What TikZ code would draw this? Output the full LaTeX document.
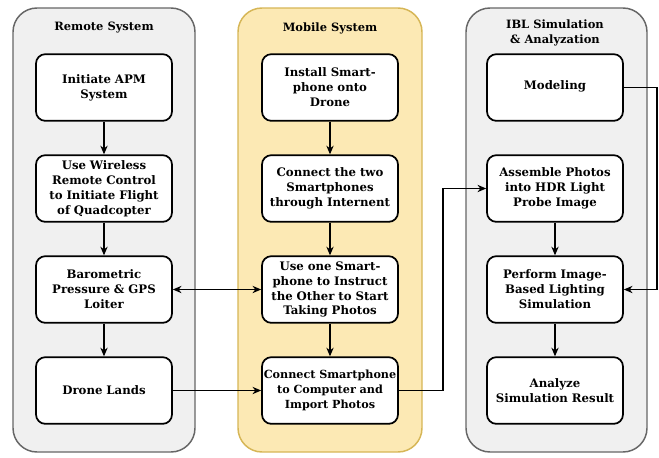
\documentclass[tikz,border=0pt]{standalone}
\usepackage{fontspec}
\setmainfont{DejaVu Serif}
\usetikzlibrary{arrows.meta}

\definecolor{lanegray}{HTML}{F0F0F0}
\definecolor{laneline}{HTML}{666666}
\definecolor{laneyellow}{HTML}{FCE9B4}
\definecolor{lanegold}{HTML}{D6B656}

\tikzset{
  lane/.style={rounded corners=18pt,line width=1.1pt},
  stepbox/.style={draw,fill=white,line width=1.3pt,rounded corners=7pt,
    text width=100pt,minimum height=50pt,align=center,inner sep=1pt,
    font=\fontsize{8.8}{11.2}\selectfont\bfseries},
  lanetitle/.style={align=center,font=\fontsize{8.6}{11}\selectfont\bfseries},
  arr/.style={-{Stealth[length=6.5pt,width=5.5pt]},line width=0.8pt},
}

\begin{document}
\begin{tikzpicture}[x=0.75pt,y=-0.75pt]
  \useasboundingbox (0,0) rectangle (659,457);

  % the three lanes
  \draw[lane,draw=laneline,fill=lanegray] (13,8) rectangle (195,452);
  \draw[lane,draw=lanegold,fill=laneyellow] (238,8) rectangle (422,452);
  \draw[lane,draw=laneline,fill=lanegray] (466,8) rectangle (647,452);

  \node[lanetitle] (remtitle) at (104,28) {Remote System};
  \node[lanetitle] (mobtitle) at (330,28) {Mobile System};
  \node[lanetitle] (ibltitle) at (555,33) {IBL Simulation\\\& Analyzation};

  % remote system
  \node[stepbox] (rem1) at (104,87.5) {Initiate APM\\System};
  \node[stepbox] (rem2) at (104,188.5) {Use Wireless\\Remote Control\\to Initiate Flight\\of Quadcopter};
  \node[stepbox] (rem3) at (104,289.5) {Barometric\\Pressure \& GPS\\Loiter};
  \node[stepbox] (rem4) at (104,390.5) {Drone Lands};

  % mobile system
  \node[stepbox] (mob1) at (330,87.5) {Install Smart-\\phone onto\\Drone};
  \node[stepbox] (mob2) at (330,188.5) {Connect the two\\Smartphones\\through Internent};
  \node[stepbox] (mob3) at (330,289.5) {Use one Smart-\\phone to Instruct\\the Other to Start\\Taking Photos};
  \node[stepbox,font=\fontsize{8.4}{11.2}\selectfont\bfseries] (mob4) at (330,390.5)
    {Connect Smartphone\\to Computer and\\Import Photos};

  % simulation side
  \node[stepbox] (ibl1) at (555,87.5) {\raisebox{4pt}{Modeling}};
  \node[stepbox] (ibl2) at (555,188.5) {Assemble Photos\\into HDR Light\\Probe Image};
  \node[stepbox] (ibl3) at (555,289.5) {Perform Image-\\Based Lighting\\Simulation};
  \node[stepbox] (ibl4) at (555,390.5) {Analyze\\Simulation Result};

  \foreach \col in {rem,mob}{
    \draw[arr] (\col1) -- (\col2);
    \draw[arr] (\col2) -- (\col3);
    \draw[arr] (\col3) -- (\col4);
  }
  \draw[arr] (ibl2) -- (ibl3);
  \draw[arr] (ibl3) -- (ibl4);

  % links between lanes
  \draw[arr,{Stealth[length=6.5pt,width=5.5pt]}-{Stealth[length=6.5pt,width=5.5pt]}] (rem3) -- (mob3);
  \draw[arr] (rem4) -- (mob4);

  \coordinate (upbend) at (443,188.5);
  \draw[arr] (mob4.east) -| (upbend) -- (ibl2.west);

  \coordinate (sidebend) at (657,87.5);
  \draw[arr] (ibl1.east) -- (sidebend) |- (ibl3.east);
\end{tikzpicture}
\end{document}
